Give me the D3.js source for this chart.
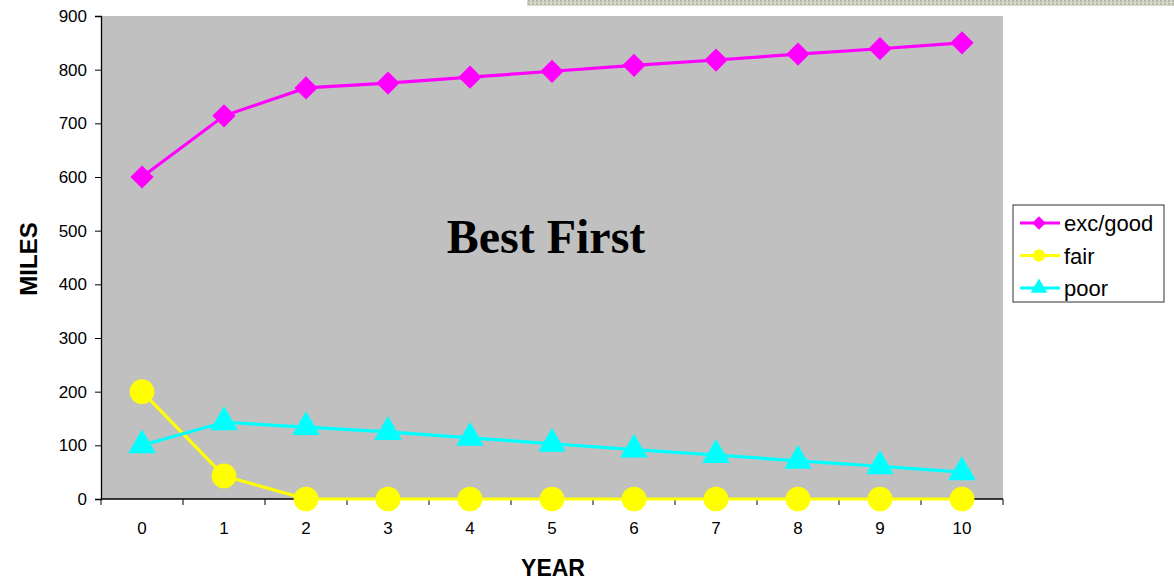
<!DOCTYPE html>
<html><head><meta charset="utf-8">
<script src="https://cdn.jsdelivr.net/npm/d3@7/dist/d3.min.js"></script>
<style>body{margin:0;background:#fff}svg{display:block}</style>
</head><body>
<script>
const years = ["0","1","2","3","4","5","6","7","8","9","10"];
const excGood = [600,714,766,775,786,797,808,818,829,839,850];
const fair = [200,43,0,0,0,0,0,0,0,0,0];
const poor = [100,143,134,125,114,103,92,82,71,61,50];
const yTicks = [0,100,200,300,400,500,600,700,800,900];
const seriesNames = ["exc/good","fair","poor"];
const seriesColors = ["#FF00FF","#FFFF00","#00FFFF"];
const chartTitle = "Best First";

const W=1174,H=580;
const m={l:101,t:16,r:1003,b:499};
const svg=d3.select("body").append("svg").attr("width",W).attr("height",H);

// top decorative strip
const defs=svg.append("defs");
const pat=defs.append("pattern").attr("id","dots").attr("width",4).attr("height",3).attr("patternUnits","userSpaceOnUse");
pat.append("rect").attr("width",4).attr("height",3).attr("fill","#d6d6ca");
pat.append("rect").attr("width",2).attr("height",2).attr("fill","#b8b8aa");
svg.append("rect").attr("x",527).attr("y",0).attr("width",W-527).attr("height",6).attr("fill","url(#dots)");

const x=d3.scaleBand().domain(years).range([m.l,m.r]);
const y=d3.scaleLinear().domain([0,900]).range([m.b,m.t]);

svg.append("rect").attr("x",m.l).attr("y",m.t).attr("width",m.r-m.l).attr("height",m.b-m.t).attr("fill","#C0C0C0");

const font="'Liberation Sans', Arial, sans-serif";
// y axis
const ya=svg.append("g").attr("transform",`translate(${m.l},0)`)
  .call(d3.axisLeft(y).tickValues(yTicks).tickSize(6).tickPadding(8));
ya.select(".domain").attr("stroke","#000").attr("stroke-width",1.3);
ya.selectAll(".tick line").attr("stroke","#000");
ya.selectAll("text").attr("font-family",font).attr("font-size",17).attr("fill","#000");

// x axis with ticks at band boundaries
const xa=svg.append("g").attr("transform",`translate(0,${m.b})`)
  .call(d3.axisBottom(x).tickSize(0).tickPadding(23));
xa.select(".domain").remove();
xa.selectAll("text").attr("font-family",font).attr("font-size",17).attr("fill","#000");
xa.append("line").attr("x1",m.l).attr("x2",m.r).attr("stroke","#000").attr("stroke-width",1.3);
const bounds=years.map(d=>x(d)).concat([m.r]);
xa.selectAll("line.bt").data(bounds).join("line").attr("class","bt")
  .attr("x1",d=>d).attr("x2",d=>d).attr("y1",0).attr("y2",6).attr("stroke","#000");

// axis titles
svg.append("text").attr("x",553).attr("y",576).attr("text-anchor","middle")
  .attr("font-family",font).attr("font-weight","bold").attr("font-size",23).text("YEAR");
svg.append("text").attr("transform","translate(37,259) rotate(-90)").attr("text-anchor","middle")
  .attr("font-family",font).attr("font-weight","bold").attr("font-size",24).text("MILES");

// chart title
svg.append("text").attr("x",546).attr("y",253).attr("text-anchor","middle")
  .attr("font-family","'Liberation Serif','Times New Roman',serif").attr("font-weight","bold")
  .attr("font-size",48).text(chartTitle);

const cx=d=>x(d)+x.bandwidth()/2;
const data=[excGood,fair,poor];
const shapes=[d3.symbolSquare,d3.symbolCircle,d3.symbolTriangle];
const sizes=[270,480,330];
const rot=[45,0,0];
const line=d3.line().x((v,i)=>cx(years[i])).y(v=>y(v));

data.forEach((vals,si)=>{
  const g=svg.append("g");
  g.append("path").datum(vals).attr("d",line).attr("fill","none")
    .attr("stroke",seriesColors[si]).attr("stroke-width",3.2);
  g.selectAll("path.mk").data(vals).join("path").attr("class","mk")
    .attr("transform",(v,i)=>`translate(${cx(years[i])},${y(v)}) rotate(${rot[si]})`)
    .attr("d",d3.symbol().type(shapes[si]).size(sizes[si]))
    .attr("fill",seriesColors[si]);
});

// legend
const lg=svg.append("g").attr("transform","translate(1013,205)");
lg.append("rect").attr("width",151).attr("height",97).attr("fill","#fff").attr("stroke","#333").attr("stroke-width",1);
const lgSizes=[90,120,120];
seriesNames.forEach((n,i)=>{
  const yy=18+i*32.5;
  lg.append("line").attr("x1",7).attr("x2",47).attr("y1",yy).attr("y2",yy).attr("stroke",seriesColors[i]).attr("stroke-width",3.2);
  lg.append("path").attr("transform",`translate(26,${yy}) rotate(${rot[i]})`).attr("d",d3.symbol().type(shapes[i]).size(lgSizes[i])).attr("fill",seriesColors[i]);
  lg.append("text").attr("x",51).attr("y",yy+8).attr("font-family",font).attr("font-size",22).text(n);
});
</script>
</body></html>
